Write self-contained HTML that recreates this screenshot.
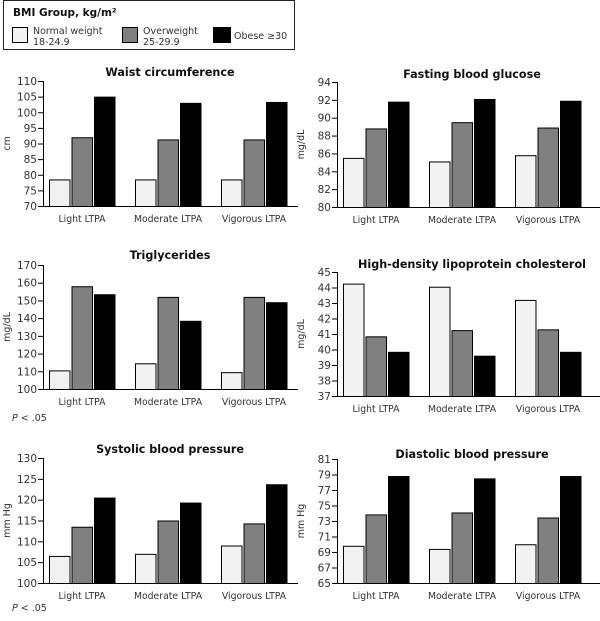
<!DOCTYPE html>
<html><head><meta charset="utf-8"><style>
html,body{margin:0;padding:0;background:#fff;}
svg text{font-family:"DejaVu Sans","Liberation Sans",sans-serif;fill:#333;}
</style></head><body>
<svg id="s" width="600" height="616" xmlns="http://www.w3.org/2000/svg">
<rect x="3.5" y="0.5" width="291" height="49" fill="#fff" stroke="#222"/>
<text x="13" y="16" font-size="10.5" font-weight="bold" style="fill:#111">BMI Group, kg/m²</text>
<rect x="12.5" y="27.5" width="15" height="15" fill="#f2f2f2" stroke="#000"/>
<text x="33" y="34" font-size="9.5">Normal weight</text><text x="33" y="45" font-size="9.5">18-24.9</text>
<rect x="122.5" y="27.5" width="15" height="15" fill="#808080" stroke="#000"/>
<text x="143" y="34" font-size="9.5">Overweight</text><text x="143" y="45" font-size="9.5">25-29.9</text>
<rect x="213.5" y="27.5" width="17" height="15" fill="#000" stroke="#000"/>
<text x="234" y="39" font-size="9.5">Obese ≥30</text>
<text x="12" y="421" font-size="9.5"><tspan font-style="italic">P</tspan> &lt; .05</text>
<text x="12" y="611" font-size="9.5"><tspan font-style="italic">P</tspan> &lt; .05</text>
</svg>
<script>
var s=document.getElementById('s'),out='';
var P=[
{ax:43,end:298,top:81,bot:206,min:70,max:110,step:5,t:'Waist circumference',ty:76,tx:170,yl:'cm',v:[[78.5,92,105],[78.5,91.3,103],[78.5,91.3,103.3]]},
{ax:337,end:600,top:82,bot:207,min:80,max:94,step:2,t:'Fasting blood glucose',ty:78,tx:472,yl:'mg/dL',v:[[85.5,88.8,91.8],[85.1,89.5,92.1],[85.8,88.9,91.9]]},
{ax:43,end:298,top:265,bot:389,min:100,max:170,step:10,t:'Triglycerides',ty:259,tx:170,yl:'mg/dL',v:[[110.5,158,153.5],[114.5,152,138.5],[109.5,152,149]]},
{ax:337,end:600,top:272,bot:396,min:37,max:45,step:1,t:'High-density lipoprotein cholesterol',ty:268,tx:472,yl:'mg/dL',v:[[44.25,40.85,39.85],[44.05,41.25,39.6],[43.2,41.3,39.85]]},
{ax:43,end:298,top:458,bot:583,min:100,max:130,step:5,t:'Systolic blood pressure',ty:453,tx:170,yl:'mm Hg',v:[[106.5,113.5,120.5],[107,115,119.3],[109,114.3,123.7]]},
{ax:337,end:600,top:459,bot:583,min:65,max:81,step:2,t:'Diastolic blood pressure',ty:458,tx:472,yl:'mm Hg',v:[[69.8,73.85,78.8],[69.4,74.1,78.5],[70,73.45,78.8]]}
];
var cats=['Light LTPA','Moderate LTPA','Vigorous LTPA'],fills=['#f2f2f2','#808080','#000'];
P.forEach(function(p){
 var sc=(p.bot-p.top)/(p.max-p.min);
 out+='<text x="'+p.tx+'" y="'+p.ty+'" font-size="11.2" font-weight="bold" text-anchor="middle" style="fill:#111">'+p.t+'</text>';
 var yx=p.ax-33,yc=(p.top+p.bot)/2;
 out+='<text x="'+yx+'" y="'+yc+'" font-size="9.5" text-anchor="middle" transform="rotate(-90 '+yx+' '+yc+')">'+p.yl+'</text>';
 for(var v=p.min;v<=p.max+1e-9;v+=p.step){var y=p.bot-(v-p.min)*sc;
  out+='<line x1="'+(p.ax-5)+'" x2="'+p.ax+'" y1="'+(y+.5)+'" y2="'+(y+.5)+'" stroke="#000"/>';
  out+='<text x="'+(p.ax-6)+'" y="'+(y+4)+'" font-size="10.5" text-anchor="end">'+v+'</text>';}
 for(var g=0;g<3;g++){for(var b=0;b<3;b++){
  var x=p.ax+6+g*86+b*22.5,y=p.bot-(p.v[g][b]-p.min)*sc;
  out+='<rect x="'+(x+.5)+'" y="'+(y+.5)+'" width="20.5" height="'+(p.bot-y)+'" fill="'+fills[b]+'" stroke="#000"/>';}
  out+='<text x="'+(p.ax+39+g*86)+'" y="'+(p.bot+16)+'" font-size="9.3" text-anchor="middle">'+cats[g]+'</text>';}
 out+='<line x1="'+(p.ax+.5)+'" x2="'+(p.ax+.5)+'" y1="'+p.top+'" y2="'+(p.bot+1)+'" stroke="#000"/>';
 out+='<line x1="'+p.ax+'" x2="'+p.end+'" y1="'+(p.bot+.5)+'" y2="'+(p.bot+.5)+'" stroke="#000"/>';
});
s.insertAdjacentHTML('beforeend',out);
</script>
</body></html>
